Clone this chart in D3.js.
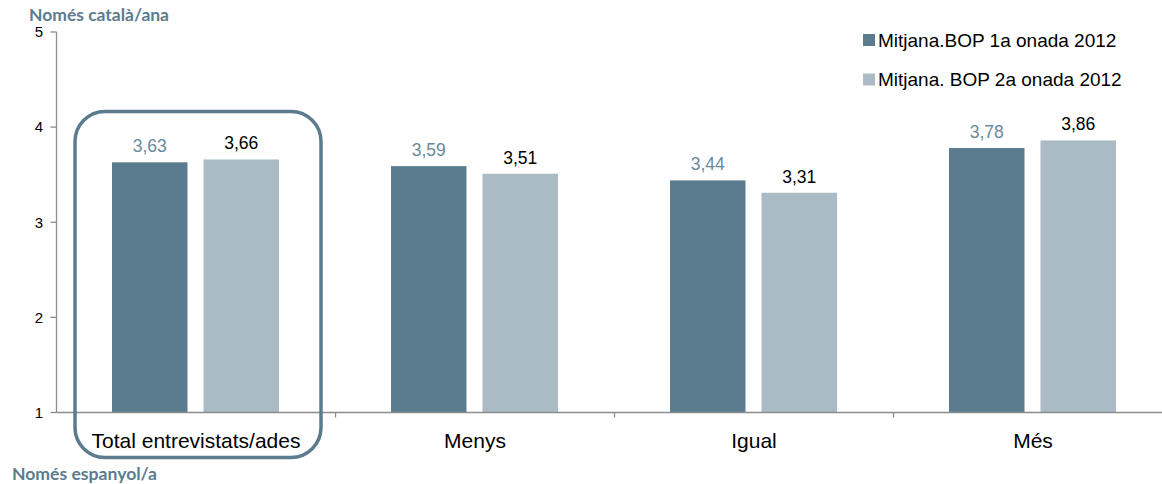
<!DOCTYPE html>
<html><head><meta charset="utf-8">
<script src="https://cdn.jsdelivr.net/npm/d3@7"></script>
<style>body{margin:0;background:#fff}svg{display:block}</style>
</head><body>
<svg id="c" width="1162" height="484"></svg>
<script>
const categories = ["Total entrevistats/ades","Menys","Igual","Més"];
const seriesNames = ["Mitjana.BOP 1a onada 2012","Mitjana. BOP 2a onada 2012"];
const wave1 = [3.63,3.59,3.44,3.78];
const wave2 = [3.66,3.51,3.31,3.86];
const yTicks = [1,2,3,4,5];
const topLabel = "Només català/ana";
const bottomLabel = "Només espanyol/a";

const colors = ["#5b7c8f","#abbbc5"];
const labelColors = ["#6a8a9c","#000"];
const svg = d3.select("#c");
const x0 = 56.5, yTop = 32, yBot = 412.5;
const x = d3.scaleBand().domain(categories).range([x0, x0 + 279*4]).padding(0);
const xi = d3.scaleBand().domain([0,1]).range([55.5, 222.5]).paddingInner(0.175).paddingOuter(0);
const y = d3.scaleLinear().domain([1,5]).range([yBot, yTop]);

// y axis
svg.append("line").attr("x1",x0).attr("x2",x0).attr("y1",yTop).attr("y2",yBot).attr("stroke","#8c8c8c").attr("stroke-width",1.3);
yTicks.forEach(t=>{
  svg.append("line").attr("x1",x0-6).attr("x2",x0).attr("y1",y(t)).attr("y2",y(t)).attr("stroke","#8c8c8c").attr("stroke-width",1.3);
  svg.append("text").attr("x",43).attr("y",y(t)).attr("dy","0.35em").attr("text-anchor","end")
    .attr("font-family","Liberation Sans, Arial").attr("font-size",15).attr("fill","#000").text(t);
});

// bars
const data = [wave1, wave2];
categories.forEach((c,i)=>{
  data.forEach((arr,s)=>{
    const bx = x(c) + xi(s);
    svg.append("rect").attr("x",bx).attr("width",xi.bandwidth()).attr("y",y(arr[i])).attr("height",yBot - y(arr[i])).attr("fill",colors[s]);
    svg.append("text").attr("x",bx + xi.bandwidth()/2).attr("y",y(arr[i]) - 10).attr("text-anchor","middle")
      .attr("font-family","Liberation Sans, Arial").attr("font-size",17.5).attr("fill",labelColors[s])
      .text(d3.format(".2f")(arr[i]).replace(".",","));
  });
});

// x axis
svg.append("line").attr("x1",x0).attr("x2",1162).attr("y1",yBot).attr("y2",yBot).attr("stroke","#8c8c8c").attr("stroke-width",1.6);
categories.forEach((c,i)=>{
  if(i>0) svg.append("line").attr("x1",x(c)).attr("x2",x(c)).attr("y1",yBot).attr("y2",yBot+5).attr("stroke","#8c8c8c").attr("stroke-width",1.3);
  svg.append("text").attr("x",x(c)+x.bandwidth()/2).attr("y",448).attr("text-anchor","middle")
    .attr("font-family","Liberation Sans, Arial").attr("font-size",21).attr("fill","#000").text(c);
});

// highlight box
svg.append("rect").attr("x",75).attr("y",111.5).attr("width",246).attr("height",346).attr("rx",30).attr("ry",30)
  .attr("fill","none").attr("stroke","#5b7c8f").attr("stroke-width",3.5);

// legend
seriesNames.forEach((n,s)=>{
  const ly = 40 + s*39.5;
  svg.append("rect").attr("x",863).attr("y",ly-6).attr("width",12).attr("height",12).attr("fill",colors[s]);
  svg.append("text").attr("x",878).attr("y",ly).attr("dy","0.35em").attr("font-family","Liberation Sans, Arial")
    .attr("font-size",19).attr("fill","#000").text(n);
});

// side labels
svg.append("text").attr("x",29).attr("y",21).attr("font-family","Lato, Open Sans").attr("font-weight","bold")
  .attr("font-size",17).attr("textLength",140).attr("lengthAdjust","spacingAndGlyphs").attr("fill","#5b7c8f").text(topLabel);
svg.append("text").attr("x",12).attr("y",480).attr("font-family","Lato, Open Sans").attr("font-weight","bold")
  .attr("font-size",17).attr("textLength",145).attr("lengthAdjust","spacingAndGlyphs").attr("fill","#5b7c8f").text(bottomLabel);
</script>
</body></html>
